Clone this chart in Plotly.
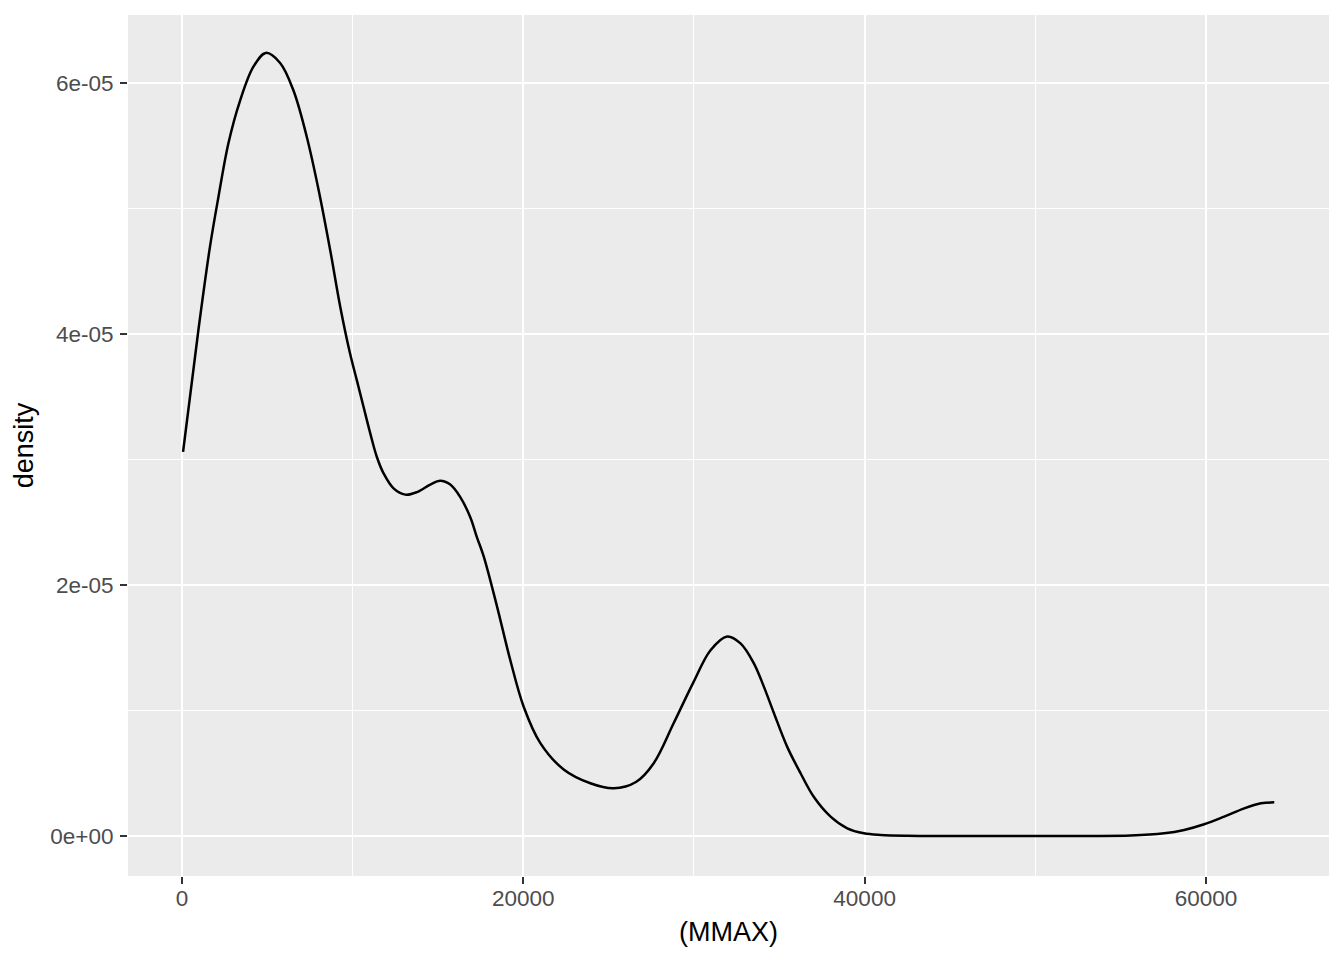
import plotly.graph_objects as go

# Values
mmax = [60, 957, 1642, 2130, 2718, 3402, 4184, 4907, 5748, 6530, 7312, 8000,
        8680, 9267, 9853, 10245, 10635, 11026, 11417, 11808, 12395, 13080,
        13763, 14545, 15132, 15718, 16305, 16891, 17282, 17673, 18456, 19238,
        20020, 20997, 22364, 23927, 25295, 26600, 27641, 28814, 29950, 30970,
        31945, 32727, 33509, 34094, 34681, 35464, 36246, 37028, 38005, 38983,
        39960, 40937, 42500, 46000, 50000, 53000, 55600, 57554, 58727, 59900,
        61073, 62246, 63225, 64006]
density = [3.06e-5, 4.03e-5, 4.70e-5, 5.09e-5, 5.52e-5, 5.86e-5, 6.13e-5, 6.24e-5,
           6.16e-5, 5.94e-5, 5.57e-5, 5.15e-5, 4.67e-5, 4.22e-5, 3.84e-5, 3.63e-5,
           3.42e-5, 3.21e-5, 3.02e-5, 2.89e-5, 2.77e-5, 2.72e-5, 2.74e-5, 2.80e-5,
           2.83e-5, 2.80e-5, 2.70e-5, 2.54e-5, 2.38e-5, 2.23e-5, 1.83e-5, 1.40e-5,
           1.03e-5, 7.4e-6, 5.3e-6, 4.2e-6, 3.8e-6, 4.3e-6, 5.8e-6, 9.0e-6,
           1.22e-5, 1.48e-5, 1.59e-5, 1.535e-5, 1.376e-5, 1.19e-5, 9.8e-6, 7.1e-6,
           5.0e-6, 3.1e-6, 1.54e-6, 6.1e-7, 2.1e-7, 8e-8, 2e-8, 0.0, 0.0, 0.0,
           3e-8, 2.1e-7, 4.8e-7, 9.3e-7, 1.54e-6, 2.2e-6, 2.6e-6, 2.68e-6]

x_ticks = [0, 20000, 40000, 60000]
x_tick_labels = ["0", "20000", "40000", "60000"]
y_ticks = [0, 2e-5, 4e-5, 6e-5]
y_tick_labels = ["0e+00", "2e-05", "4e-05", "6e-05"]

fig = go.Figure()
fig.add_trace(go.Scatter(
    x=mmax, y=density, mode="lines",
    line=dict(color="black", width=2.5, shape="spline", smoothing=1.0),
    showlegend=False, hoverinfo="x+y"))

font_family = "Liberation Sans, Arial, Helvetica, sans-serif"

fig.update_layout(
    width=1336, height=952,
    margin=dict(l=120, r=15, t=7, b=84),
    paper_bgcolor="white",
    plot_bgcolor="#EBEBEB",
    font=dict(family=font_family, color="#4D4D4D"),
)

fig.update_xaxes(
    range=[-3167, 67213],
    tickvals=x_ticks, ticktext=x_tick_labels,
    showgrid=True, gridcolor="white", gridwidth=2,
    minor=dict(dtick=10000, tick0=0, showgrid=True, gridcolor="white",
               gridwidth=1, ticks=""),
    zeroline=False, showline=False,
    ticks="outside", ticklen=7, tickwidth=2, tickcolor="#333333",
    tickfont=dict(size=22.5, color="#4D4D4D", family=font_family),
    ticklabelstandoff=-5,
    title=dict(text="(MMAX)", font=dict(size=27, color="black", family=font_family),
               standoff=12),
    automargin=False,
)
fig.update_yaxes(
    range=[-3.19e-6, 6.542e-5],
    tickvals=y_ticks, ticktext=y_tick_labels,
    showgrid=True, gridcolor="white", gridwidth=2,
    minor=dict(dtick=1e-5, tick0=0, showgrid=True, gridcolor="white",
               gridwidth=1, ticks=""),
    zeroline=False, showline=False,
    ticks="outside", ticklen=7, tickwidth=2, tickcolor="#333333",
    tickfont=dict(size=22.5, color="#4D4D4D", family=font_family),
    ticklabelstandoff=2,
    title=dict(text="density", font=dict(size=27, color="black", family=font_family),
               standoff=8),
    automargin=False,
)

fig.write_html("out.html")
